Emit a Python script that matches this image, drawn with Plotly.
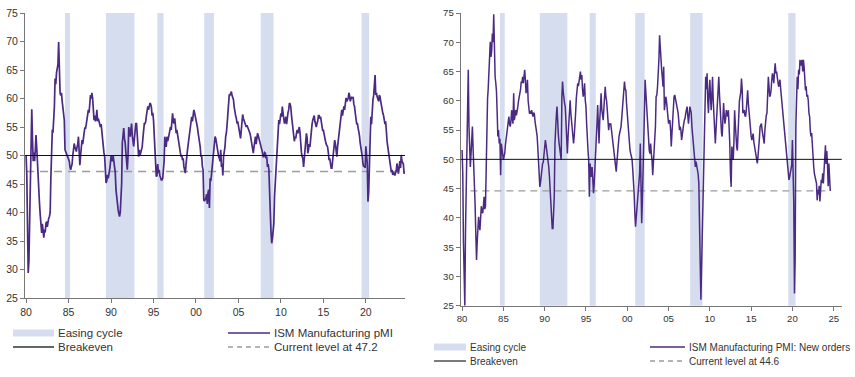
import pandas as pd
import plotly.graph_objects as go

# ---------------- data (monthly, from Jan 1980) ----------------
pmi_values = [
    50.0, 46.5, 38.0, 29.4, 31.5, 38.0, 46.0, 52.0, 58.1, 53.0, 49.0, 50.5,  # 1980
    49.0, 51.0, 53.6, 51.5, 48.5, 46.5, 44.5, 41.5, 39.5, 38.1, 36.4, 38.0,  # 1981
    37.0, 35.6, 37.0, 36.5, 38.0, 38.4, 37.5, 38.5, 39.0, 39.3, 40.0, 46.0,  # 1982
    53.9, 54.5, 54.0, 56.0, 58.5, 63.5, 62.5, 64.5, 65.0, 66.0, 69.9, 64.0,  # 1983
    61.0, 60.5, 61.0, 59.5, 58.5, 57.0, 56.2, 51.0, 50.7, 50.5, 50.0, 49.8,  # 1984
    49.5, 49.0, 48.0, 47.5, 48.0, 48.5, 50.0, 51.0, 52.1, 51.5, 51.0, 50.7,  # 1985
    51.5, 52.0, 53.3, 51.0, 48.3, 50.0, 51.5, 52.7, 52.0, 53.5, 54.0, 54.8,  # 1986
    54.8, 55.5, 56.5, 57.0, 58.0, 57.5, 59.0, 60.6, 60.0, 61.0, 60.0, 58.0,  # 1987
    56.2, 57.0, 56.0, 56.5, 58.0, 56.0, 56.5, 56.0, 55.5, 55.0, 55.5, 54.0,  # 1988
    52.2, 51.5, 50.5, 49.8, 48.0, 45.2, 45.5, 46.6, 46.0, 46.6, 47.5, 48.5,  # 1989
    49.9, 49.5, 49.0, 50.0, 49.0, 48.5, 47.0, 44.0, 42.5, 41.5, 40.5, 39.8,  # 1990
    39.3, 40.0, 42.0, 45.0, 52.2, 53.5, 54.8, 53.0, 52.2, 50.5, 48.5, 47.5,  # 1991
    50.0, 55.0, 54.0, 53.3, 54.5, 55.6, 53.5, 52.0, 51.6, 53.0, 54.5, 55.6,  # 1992
    55.6, 54.0, 52.0, 49.8, 51.0, 50.0, 50.5, 51.0, 51.5, 53.0, 54.5, 55.6,  # 1993
    55.6, 56.0, 57.0, 58.0, 58.6, 58.0, 58.5, 59.2, 59.0, 58.5, 57.0, 57.5,  # 1994
    56.2, 53.0, 50.4, 49.2, 46.3, 46.5, 48.5, 46.9, 47.5, 46.5, 46.0, 45.7,  # 1995
    45.7, 46.0, 47.5, 49.0, 53.3, 52.0, 51.5, 53.3, 52.5, 53.0, 54.0, 55.0,  # 1996
    55.0, 54.5, 56.0, 57.4, 56.0, 55.6, 56.5, 55.0, 53.9, 54.5, 53.5, 52.5,  # 1997
    51.6, 51.0, 50.5, 49.8, 50.0, 49.2, 49.5, 48.0, 47.5, 46.9, 48.5, 51.0,  # 1998
    51.0, 52.0, 53.0, 54.4, 55.0, 55.5, 56.8, 56.0, 57.0, 58.0, 57.5, 57.0,  # 1999
    56.2, 55.5, 55.0, 54.0, 53.3, 52.5, 51.5, 49.8, 50.0, 48.1, 47.5, 42.2,  # 2000
    42.0, 42.3, 42.5, 43.2, 41.5, 43.5, 44.0, 40.8, 46.0, 45.5, 47.0, 48.0,  # 2001
    49.0, 52.0, 52.5, 53.3, 53.0, 52.0, 51.6, 51.0, 49.8, 49.5, 49.0, 51.0,  # 2002
    48.0, 48.5, 46.5, 49.8, 50.5, 51.5, 53.3, 54.0, 55.5, 58.0, 59.5, 60.6,  # 2003
    60.6, 61.0, 61.2, 60.5, 60.0, 59.8, 58.5, 57.4, 57.0, 56.5, 55.6, 56.0,  # 2004
    55.0, 54.5, 53.3, 53.0, 54.4, 56.0, 57.2, 56.5, 56.2, 55.8, 55.3, 55.0,  # 2005
    55.3, 55.0, 54.8, 54.5, 54.0, 53.5, 52.7, 52.0, 51.0, 50.4, 51.5, 52.5,  # 2006
    53.3, 52.0, 53.5, 53.9, 53.5, 53.0, 53.0, 52.0, 51.5, 51.0, 50.5, 49.8,  # 2007
    49.8, 50.5, 50.4, 49.5, 49.8, 48.0, 48.5, 47.5, 45.0, 40.0, 36.5, 34.6,  # 2008
    35.5, 36.9, 38.0, 42.8, 45.0, 48.0, 51.0, 53.0, 54.5, 56.2, 55.5, 56.5,  # 2009
    57.4, 56.8, 58.6, 57.5, 56.5, 55.6, 56.0, 56.8, 55.5, 57.0, 57.5, 58.0,  # 2010
    59.2, 59.0, 58.5, 57.0, 55.6, 54.0, 52.7, 52.5, 53.3, 53.0, 53.9, 54.5,  # 2011
    53.9, 54.5, 55.0, 54.0, 51.0, 50.5, 49.8, 49.5, 48.0, 49.5, 51.0, 52.0,  # 2012
    53.9, 53.0, 50.4, 51.0, 52.0, 51.5, 53.3, 54.5, 55.5, 56.2, 56.5, 57.0,  # 2013
    56.0, 55.6, 55.0, 55.6, 56.0, 57.0, 57.0, 56.5, 56.8, 56.0, 55.0, 54.4,  # 2014
    54.4, 53.5, 52.7, 52.5, 52.0, 51.6, 51.5, 50.5, 49.2, 49.5, 48.0, 47.8,  # 2015
    47.8, 49.0, 51.0, 51.5, 52.7, 52.0, 50.5, 49.8, 51.5, 52.7, 54.0, 55.0,  # 2016
    56.8, 57.5, 58.0, 57.0, 58.0, 58.6, 58.0, 59.0, 60.1, 59.5, 59.8, 60.0,  # 2017
    61.0, 60.5, 59.5, 59.8, 60.3, 60.0, 60.3, 59.0, 58.6, 57.5, 56.5, 55.6,  # 2018
    55.6, 55.0, 54.4, 53.5, 52.2, 51.5, 50.5, 49.8, 48.5, 48.0, 48.2, 47.8,  # 2019
    51.6, 50.1, 48.6, 41.9, 43.5, 48.0, 53.5, 56.8, 55.5, 58.5, 59.8, 60.5,  # 2020
    62.0, 64.1, 60.6, 61.0, 60.3, 60.0, 59.5, 60.6, 60.3, 59.5, 58.5, 57.4,  # 2021
    57.4, 57.0, 56.2, 55.5, 56.0, 53.3, 52.5, 51.5, 50.4, 50.0, 49.0, 48.0,  # 2022
    47.1, 47.5, 46.6, 47.0, 46.9, 46.5, 46.9, 47.4, 48.6, 46.8, 46.8, 47.8,  # 2023
    49.0, 47.8, 50.1, 49.0, 48.7, 48.5, 46.8, 47.2,                          # 2024
]

new_orders_values = [
    51.6, 47.6, 36.0, 27.0, 25.0, 38.0, 47.0, 54.2, 58.0, 65.3, 55.6, 50.0,  # 1980
    48.7, 51.0, 53.0, 55.6, 52.0, 49.3, 46.0, 42.0, 37.0, 32.8, 36.0, 39.0,  # 1981
    40.2, 38.5, 37.9, 40.0, 42.0, 41.0, 40.8, 42.0, 43.6, 41.5, 42.0, 48.0,  # 1982
    60.1, 60.4, 62.0, 64.1, 66.0, 70.1, 67.5, 68.5, 71.5, 70.0, 74.8, 68.0,  # 1983
    64.1, 63.0, 61.6, 58.0, 53.9, 55.0, 52.7, 53.5, 47.3, 52.7, 51.5, 49.9,  # 1984
    49.9, 50.5, 51.0, 52.5, 53.5, 54.4, 55.0, 55.6, 57.3, 56.0, 55.6, 56.5,  # 1985
    58.4, 57.0, 56.1, 61.3, 56.7, 57.5, 58.4, 57.5, 58.0, 59.0, 60.0, 61.3,  # 1986
    61.3, 62.0, 63.3, 63.0, 64.1, 63.0, 64.7, 65.3, 63.5, 61.3, 62.0, 63.6,  # 1987
    60.0, 58.4, 57.8, 58.0, 57.8, 58.4, 57.5, 57.3, 58.0, 57.8, 56.5, 55.6,  # 1988
    55.6, 54.0, 52.2, 49.0, 46.5, 45.3, 46.0, 47.5, 48.7, 49.3, 49.5, 50.5,  # 1989
    51.6, 53.3, 52.5, 51.6, 50.5, 49.5, 48.7, 47.0, 44.2, 42.0, 40.2, 38.2,  # 1990
    38.2, 41.0, 43.6, 52.7, 56.7, 57.5, 59.0, 55.6, 54.0, 52.7, 51.5, 50.5,  # 1991
    49.9, 60.7, 63.3, 61.5, 60.1, 59.5, 59.0, 56.7, 54.0, 51.0, 53.9, 57.0,  # 1992
    59.0, 60.1, 58.0, 56.7, 54.5, 53.3, 52.7, 54.0, 55.6, 58.0, 60.5, 62.4,  # 1993
    63.0, 62.5, 63.5, 64.7, 65.0, 63.6, 64.4, 62.0, 60.7, 61.5, 63.0, 60.1,  # 1994
    59.0, 56.0, 52.7, 51.6, 50.0, 43.6, 49.3, 47.6, 47.0, 48.7, 46.0, 44.2,  # 1995
    45.9, 48.0, 51.6, 53.9, 56.0, 59.3, 55.0, 52.7, 56.5, 58.5, 61.3, 58.5,  # 1996
    57.3, 56.7, 58.5, 60.5, 62.4, 60.7, 60.0, 58.4, 57.0, 55.0, 56.1, 56.0,  # 1997
    56.1, 55.0, 54.0, 53.0, 51.6, 50.5, 49.3, 48.5, 47.9, 49.5, 51.6, 52.5,  # 1998
    53.9, 54.5, 55.0, 55.6, 57.0, 59.0, 60.0, 61.3, 63.3, 62.0, 61.8, 59.5,  # 1999
    57.9, 56.0, 53.9, 52.5, 51.6, 51.0, 50.5, 50.0, 48.2, 46.5, 44.2, 41.0,  # 2000
    38.5, 40.0, 41.3, 43.0, 44.2, 46.0, 47.6, 52.7, 43.6, 39.1, 43.0, 47.0,  # 2001
    52.0, 58.4, 63.6, 61.3, 59.5, 58.4, 55.0, 52.7, 51.5, 51.0, 52.7, 51.0,  # 2002
    49.9, 47.3, 49.0, 51.6, 53.5, 55.6, 60.7, 61.0, 62.4, 64.5, 67.0, 71.2,  # 2003
    68.5, 67.5, 65.3, 64.0, 62.4, 65.8, 58.4, 59.5, 60.7, 60.0, 59.0, 57.5,  # 2004
    56.1, 56.5, 56.7, 55.0, 52.2, 54.5, 57.3, 59.0, 60.7, 61.0, 60.5, 59.5,  # 2005
    59.0, 58.5, 57.9, 56.5, 55.0, 55.6, 55.0, 53.3, 54.5, 55.6, 56.0, 56.7,  # 2006
    57.0, 57.9, 58.5, 59.0, 57.5, 56.1, 57.5, 59.0, 58.5, 57.9, 55.5, 53.9,  # 2007
    52.0, 50.5, 49.5, 48.7, 49.6, 49.0, 48.2, 47.5, 45.9, 34.5, 32.2, 26.0,  # 2008
    32.2, 36.0, 44.2, 49.0, 53.9, 57.0, 64.1, 62.0, 64.7, 60.0, 57.9, 61.5,  # 2009
    63.6, 60.5, 58.4, 61.0, 64.1, 60.0, 57.9, 55.0, 52.7, 55.0, 57.3, 60.0,  # 2010
    62.0, 64.1, 61.3, 58.5, 55.0, 54.5, 53.9, 56.0, 59.6, 57.5, 56.1, 57.0,  # 2011
    58.4, 57.8, 57.3, 58.4, 56.0, 52.7, 47.6, 45.3, 52.2, 51.0, 49.9, 53.0,  # 2012
    58.4, 56.0, 52.7, 52.2, 51.5, 55.0, 59.6, 60.0, 60.7, 61.5, 63.8, 62.0,  # 2013
    57.9, 58.2, 58.4, 57.5, 57.3, 58.4, 60.0, 61.8, 59.5, 57.9, 56.0, 54.4,  # 2014
    54.0, 53.3, 53.8, 54.4, 53.0, 52.2, 51.5, 51.0, 50.0, 49.3, 50.5, 51.6,  # 2015
    53.5, 55.6, 56.0, 56.1, 55.0, 53.9, 53.0, 52.7, 55.0, 56.7, 57.5, 57.9,  # 2016
    61.0, 64.1, 62.5, 60.7, 61.0, 61.8, 63.5, 64.7, 64.0, 63.0, 65.0, 66.4,  # 2017
    64.7, 65.0, 64.1, 63.0, 62.4, 63.0, 63.6, 62.0, 60.7, 59.5, 58.4, 57.0,  # 2018
    56.1, 54.0, 52.7, 51.5, 50.5, 49.5, 48.7, 46.5, 47.0, 47.6, 48.2, 49.0,  # 2019
    53.3, 49.5, 42.5, 27.1, 33.0, 55.6, 61.3, 64.1, 62.0, 65.3, 64.5, 67.0,  # 2020
    66.0, 66.4, 67.0, 65.0, 67.0, 65.8, 63.0, 61.8, 62.5, 60.7, 61.0, 60.1,  # 2021
    57.9, 57.3, 55.0, 53.9, 54.5, 51.6, 49.0, 48.7, 47.5, 47.0, 46.5, 45.9,  # 2022
    43.0, 44.8, 44.0, 45.5, 42.8, 45.6, 46.5, 46.0, 47.6, 45.9, 48.0, 49.3,  # 2023
    52.4, 49.2, 51.4, 49.1, 45.4, 49.3, 47.4, 44.6,                          # 2024
]

easing_start = ["1984-08-01", "1989-06-01", "1995-06-15", "2000-12-20", "2007-08-15", "2019-07-01"]
easing_end = ["1985-03-01", "1992-10-01", "1996-03-10", "2002-02-10", "2009-02-15", "2020-05-20"]

breakeven = 50
pmi_current = 47.2
new_orders_current = 44.6

left_labels = ["Easing cycle", "ISM Manufacturing pMI", "Breakeven", "Current level at 47.2"]
right_labels = ["Easing cycle", "ISM Manufacturing PMI: New orders", "Breakeven", "Current level at 44.6"]

# ---------------- styling ----------------
W, H = 855, 377
PURPLE = "#4a2a82"
BAND = "#d5ddef"
DASH = "#9c9c9c"
TXT = "#333333"
AXIS = "#777777"
FONT = "Liberation Sans, Arial, sans-serif"

dates = pd.date_range("1980-01-01", periods=len(pmi_values), freq="MS")
dates_no = pd.date_range("1980-01-01", periods=len(new_orders_values), freq="MS")


def px(x):
    return x / W


def py(y):
    return 1 - y / H


fig = go.Figure()

# current level dashed lines
fig.add_trace(go.Scatter(x=[dates[0], dates[-1]], y=[pmi_current, pmi_current], mode="lines",
                         line=dict(color=DASH, width=1.5, dash="8px,6px"),
                         xaxis="x", yaxis="y", showlegend=False, hoverinfo="skip"))
fig.add_trace(go.Scatter(x=[dates_no[12], dates_no[-1]], y=[new_orders_current, new_orders_current], mode="lines",
                         line=dict(color=DASH, width=1.3, dash="7px,5px"),
                         xaxis="x2", yaxis="y2", showlegend=False, hoverinfo="skip"))

# main series
fig.add_trace(go.Scatter(x=dates, y=pmi_values, mode="lines",
                         line=dict(color=PURPLE, width=1.7), xaxis="x", yaxis="y",
                         showlegend=False))
fig.add_trace(go.Scatter(x=dates_no, y=new_orders_values, mode="lines",
                         line=dict(color=PURPLE, width=1.5), xaxis="x2", yaxis="y2",
                         showlegend=False))

shapes = []
for xr, yr in (("x", "y"), ("x2", "y2")):
    for s, e in zip(easing_start, easing_end):
        shapes.append(dict(type="rect", xref=xr, yref=f"{yr} domain", x0=s, x1=e, y0=0, y1=1,
                           fillcolor=BAND, line=dict(width=0), layer="below"))
    shapes.append(dict(type="line", xref=f"{xr} domain", yref=yr, x0=0, x1=1,
                       y0=breakeven, y1=breakeven, line=dict(color="#111111", width=1)))

annotations = []


def legend_item(x0, x1, y, kind, text, size):
    if kind == "band":
        shapes.append(dict(type="rect", xref="paper", yref="paper", x0=px(x0), x1=px(x1),
                           y0=py(y + 3.5), y1=py(y - 3.5), fillcolor=BAND, line=dict(width=0)))
    else:
        color = {"series": PURPLE, "solid": "#333333", "dash": DASH}[kind]
        dash = "5px,4px" if kind == "dash" else "solid"
        shapes.append(dict(type="line", xref="paper", yref="paper", x0=px(x0), x1=px(x1),
                           y0=py(y), y1=py(y), line=dict(color=color, width=1.3, dash=dash)))
    annotations.append(dict(xref="paper", yref="paper", x=px(x1 + 3), y=py(y), text=text,
                            showarrow=False, xanchor="left", yanchor="middle", borderpad=0,
                            font=dict(family=FONT, size=size, color=TXT)))


# left legend
legend_item(13, 54, 333, "band", left_labels[0], 11.5)
legend_item(228, 270, 333, "series", left_labels[1], 11.5)
legend_item(13, 54, 347, "solid", left_labels[2], 11.5)
legend_item(228, 270, 347, "dash", left_labels[3], 11.5)
# right legend
legend_item(434, 466, 347, "band", right_labels[0], 10)
legend_item(650, 685, 347, "series", right_labels[1], 10)
legend_item(434, 466, 361, "solid", right_labels[2], 10)
legend_item(650, 685, 361, "dash", right_labels[3], 10)

axis_common = dict(showgrid=False, zeroline=False, showline=True, linecolor=AXIS, linewidth=1,
                   ticks="outside", ticklen=4, tickcolor=AXIS, tickwidth=1, automargin=False)

fig.update_layout(
    width=W, height=H, margin=dict(l=0, r=0, t=0, b=0, autoexpand=False),
    paper_bgcolor="white", plot_bgcolor="white",
    font=dict(family=FONT, color=TXT),
    showlegend=False,
    xaxis=dict(domain=[px(25), px(405)], anchor="y", type="date",
               range=["1979-11-15", "2024-08-10"], dtick="M60", tick0="1980-01-01",
               tickformat="%y", tickfont=dict(size=10.5, color=TXT), **axis_common),
    yaxis=dict(domain=[py(298), py(13)], anchor="x", range=[25, 75], dtick=5,
               tickfont=dict(size=10.5, color=TXT), **axis_common),
    xaxis2=dict(domain=[px(460.7), px(841.7)], anchor="y2", type="date",
                range=["1979-11-01", "2025-12-20"], dtick="M60", tick0="1980-01-01",
                tickformat="%y", tickfont=dict(size=9.6, color=TXT), **axis_common),
    yaxis2=dict(domain=[py(305.7), py(13)], anchor="x2", range=[25, 75], dtick=5,
                tickfont=dict(size=9.6, color=TXT), **axis_common),
    shapes=shapes, annotations=annotations,
)

fig.write_html("out.html", config={"displayModeBar": False},
               post_script="document.body.style.margin='0';")
